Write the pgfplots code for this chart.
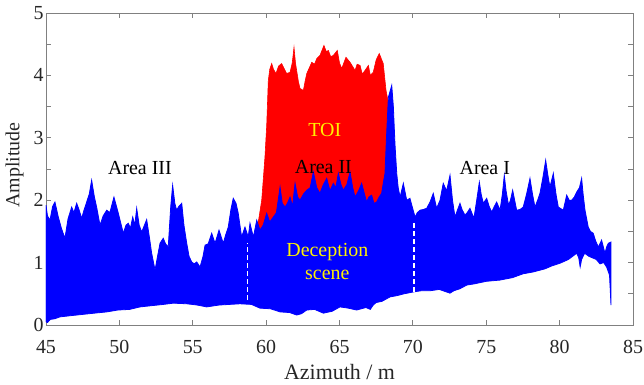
\documentclass[border=0pt]{standalone}
\usepackage{pgfplots}
\pgfplotsset{compat=1.18}
\usepackage{fontspec}
\setmainfont{Liberation Serif}
\definecolor{axgray}{gray}{0.5}
\definecolor{txtgray}{gray}{0.15}
\begin{document}
\begin{tikzpicture}
\useasboundingbox (-46bp,-60bp) rectangle (598bp,325bp);
\begin{axis}[
  at={(0,0)}, anchor=south west,
  scale only axis, width=587bp, height=312bp,
  xmin=45, xmax=85, ymin=0, ymax=5,
  xtick={45,50,...,85},
  ytick={0,1,...,5},
  minor ytick={0.5,1.5,...,4.5},
  tick align=inside,
  major tick length=5bp, minor tick length=5bp,
  axis line style={axgray, line width=0.8pt},
  tick style={axgray, line width=0.8pt},
  tick label style={font=\fontsize{20}{20}\selectfont, text=txtgray},
  xticklabel style={anchor=center, yshift=-22bp},
  yticklabel style={xshift=1bp},
  /pgf/number format/assume math mode=true,
  xlabel={Azimuth / m}, ylabel={Amplitude},
  xlabel style={font=\fontsize{22}{22}\selectfont, text=txtgray, at={(axis description cs:0.5,0)}, anchor=center, yshift=-47bp},
  ylabel style={font=\fontsize{20}{20}\selectfont, text=txtgray, at={(axis description cs:0,0.5)}, anchor=center, xshift=4bp, yshift=31.5bp},
  clip=true,
]
% TOI (red)
\addplot[fill=red, draw=red, line width=0.6pt] coordinates {
(59.25,1.45) (59.5,1.7) (59.7,2.0) (59.92,2.69) (60.04,3.2) (60.15,3.92) (60.25,4.1) (60.38,4.19) (60.5,4.1) (60.67,4.03) (60.85,4.15) (61.06,4.19) (61.25,4.1) (61.4,4.03) (61.63,4.05) (61.78,4.2) (61.9,4.45) (62.0,4.2) (62.08,4.08) (62.2,3.9) (62.31,3.79) (62.54,3.76) (62.65,3.9) (62.77,4.03) (63.11,4.21) (63.3,4.18) (63.45,4.27) (63.67,4.32) (63.94,4.48) (64.1,4.38) (64.24,4.4) (64.4,4.3) (64.58,4.32) (64.85,4.4) (65.0,4.2) (65.15,4.11) (65.44,4.29) (65.72,4.21) (66.06,4.08) (66.2,4.18) (66.4,4.16) (66.55,4.02) (66.74,4.08) (66.97,4.16) (67.1,4.0) (67.3,4.05) (67.5,4.25) (67.71,4.35) (67.98,4.19) (68.17,3.76) (68.3,3.6) (68.45,2.0) (68.45,1.0) (59.25,1.0)
} --cycle;
% Deception scene (blue)
\addplot[fill=blue, draw=blue, line width=0.8pt] coordinates {
(45,1.92) (45.1,1.75) (45.27,1.68) (45.45,1.9) (45.61,1.97) (45.84,1.73) (46.05,1.55) (46.29,1.39) (46.5,1.7) (46.75,1.89) (46.9,1.8) (47.09,1.95) (47.25,1.85) (47.43,1.71) (47.6,1.85) (47.77,1.97) (47.95,2.1) (48.11,2.32) (48.3,2.05) (48.45,1.89) (48.68,1.6) (48.9,1.75) (49.14,1.84) (49.35,1.8) (49.63,2.05) (49.93,1.79) (50.27,1.47) (50.45,1.6) (50.61,1.63) (50.75,1.55) (50.91,1.73) (51.05,1.6) (51.18,1.87) (51.35,1.6) (51.52,1.49) (51.86,1.69) (52.05,1.4) (52.2,1.15) (52.43,0.88) (52.6,1.1) (52.77,1.31) (52.99,1.39) (53.15,1.3) (53.33,1.25) (53.5,1.9) (53.63,2.24) (53.78,1.95) (53.9,1.84) (54.05,1.9) (54.25,1.95) (54.4,1.6) (54.59,1.31) (54.75,1.1) (54.93,1.01) (55.1,0.98) (55.27,1.01) (55.5,0.93) (55.7,1.1) (55.84,1.28) (56.05,1.3) (56.29,1.47) (56.52,1.31) (56.79,1.52) (57.08,1.31) (57.25,1.45) (57.42,1.57) (57.6,1.85) (57.76,2.03) (57.95,1.95) (58.1,1.79) (58.33,1.41) (58.56,1.57) (58.78,1.41) (58.9,1.63) (59.13,1.41) (59.36,1.68) (59.58,1.52) (59.8,1.6) (60.04,1.79) (60.25,1.65) (60.49,1.73) (60.7,1.8) (60.95,2.21) (61.1,1.95) (61.29,1.89) (61.45,1.95) (61.63,2.05) (61.8,1.9) (61.97,2.27) (62.15,2.05) (62.31,2.0) (62.55,2.1) (62.77,2.16) (63.0,2.2) (63.22,2.45) (63.45,2.2) (63.67,2.11) (63.9,2.25) (64.13,2.35) (64.35,2.15) (64.58,2.27) (64.75,2.2) (64.92,2.43) (65.1,2.25) (65.26,2.16) (65.5,2.25) (65.72,2.45) (65.9,2.2) (66.06,2.05) (66.3,2.15) (66.51,2.27) (66.7,2.1) (66.85,1.97) (67.0,2.05) (67.19,2.08) (67.35,1.95) (67.53,1.97) (67.7,2.05) (67.87,2.11) (68.0,2.3) (68.1,2.43) (68.2,3.0) (68.33,3.65) (68.45,3.75) (68.56,3.84) (68.67,3.5) (68.78,2.9) (68.9,2.43) (69.0,2.2) (69.13,2.05) (69.35,2.27) (69.58,2.0) (69.8,2.03) (69.95,1.9) (70.15,1.73) (70.3,1.8) (70.49,1.84) (70.7,1.85) (70.94,1.87) (71.17,1.97) (71.39,2.11) (71.62,1.87) (71.85,2.0) (72.07,2.27) (72.3,2.15) (72.53,2.4) (72.7,2.0) (72.87,1.73) (73.05,1.85) (73.21,1.95) (73.35,1.85) (73.55,1.76) (73.7,1.8) (73.89,1.87) (74.16,1.71) (74.35,2.0) (74.53,2.29) (74.65,2.1) (74.8,1.95) (75.03,2.03) (75.2,1.9) (75.37,1.81) (75.55,1.9) (75.71,1.97) (75.94,1.84) (76.1,2.1) (76.23,2.4) (76.35,2.15) (76.52,1.92) (76.65,2.0) (76.8,2.16) (77.07,1.84) (77.3,1.85) (77.52,1.89) (77.75,2.1) (77.98,2.35) (78.15,2.1) (78.32,1.89) (78.5,2.0) (78.66,2.11) (78.85,2.35) (79.05,2.64) (79.2,2.4) (79.34,2.21) (79.57,2.43) (79.75,2.1) (79.91,1.89) (80.25,1.84) (80.48,2.08) (80.65,2.0) (80.82,2.0) (81.0,2.05) (81.16,2.13) (81.35,2.2) (81.5,2.35) (81.6,2.1) (81.73,1.84) (81.95,1.57) (82.1,1.5) (82.29,1.47) (82.45,1.35) (82.64,1.25) (82.86,1.36) (83.09,1.15) (83.2,1.25) (83.32,1.31) (83.5,1.33) (83.5,0.32)
(83.4,0.8) (83.2,0.93) (83.0,1.0) (82.75,0.98) (82.5,1.05) (82.3,1.07) (82.0,1.1) (81.7,1.15) (81.5,1.05) (81.4,0.93) (81.3,1.08) (81.16,1.15) (80.6,1.05) (80.03,0.99) (79.5,0.95) (79.0,0.9) (78.2,0.85) (77.5,0.82) (76.8,0.76) (75.94,0.72) (75.0,0.7) (74.2,0.66) (73.67,0.64) (73.2,0.58) (72.8,0.55) (72.53,0.51) (71.8,0.57) (71.2,0.55) (70.6,0.55) (70.03,0.53) (69.4,0.5) (68.9,0.47) (68.44,0.45) (67.9,0.38) (67.5,0.36) (67.3,0.32) (67.1,0.25) (66.8,0.28) (66.17,0.24) (65.6,0.27) (65.03,0.29) (64.5,0.22) (63.9,0.19) (63.3,0.25) (62.77,0.24) (62.4,0.18) (62.08,0.16) (61.6,0.2) (60.95,0.21) (60.3,0.26) (59.58,0.27) (59.0,0.33) (58.22,0.34) (57.5,0.33) (56.8,0.32) (55.95,0.29) (55.3,0.32) (54.6,0.34) (53.67,0.35) (53.0,0.33) (52.2,0.31) (51.41,0.29) (50.7,0.25) (49.9,0.24) (49.14,0.21) (48.3,0.19) (47.5,0.17) (46.7,0.15) (45.95,0.13) (45.6,0.1) (45.3,0.09) (45.1,0.04) (45,0.05)
} --cycle;
% dashed separators
\addplot[white, line width=1.6pt, dash pattern=on 5bp off 3bp] coordinates {(58.72,0.4) (58.72,1.32)};
\addplot[white, line width=1.6pt, dash pattern=on 5bp off 3bp] coordinates {(70.08,0.53) (70.08,1.68)};
% labels
\node[font=\fontsize{20}{20}\selectfont, text=black] at (axis cs:51.4,2.52) {Area III};
\node[font=\fontsize{20}{20}\selectfont, text=black] at (axis cs:63.9,2.53) {Area II};
\node[font=\fontsize{20}{20}\selectfont, text=black] at (axis cs:74.9,2.52) {Area I};
\node[font=\fontsize{20}{20}\selectfont, text=yellow] at (axis cs:64.0,3.12) {TOI};
\node[font=\fontsize{20}{23}\selectfont, text=yellow, align=center] at (axis cs:64.17,1.02) {Deception\\scene};
\end{axis}
\end{tikzpicture}
\end{document}
